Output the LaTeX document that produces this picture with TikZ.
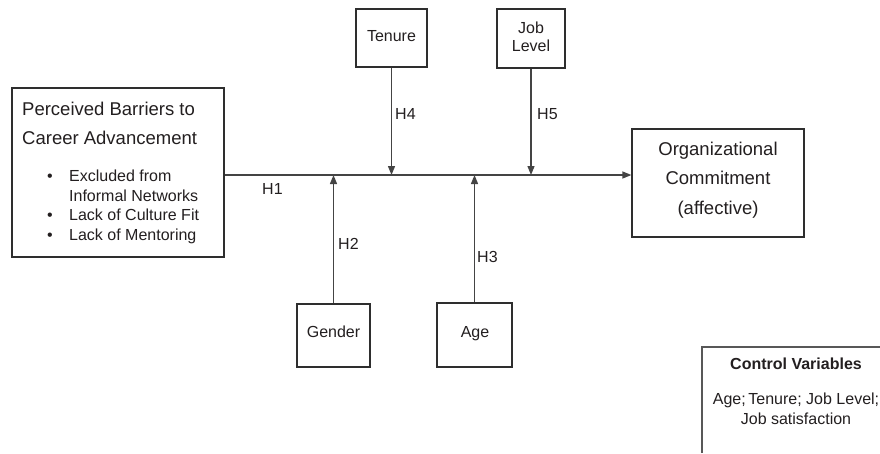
\documentclass[tikz,border=0pt]{standalone}
\usepackage{fontspec}
\setmainfont{Liberation Sans}
\usetikzlibrary{arrows.meta}
\definecolor{ink}{HTML}{231F20}
\definecolor{edge}{HTML}{2E2E2E}
\definecolor{wire}{HTML}{444444}
\begin{document}
\begin{tikzpicture}[x=1pt,y=-1pt,
  box/.style={draw=edge,line width=1.2pt,inner sep=0pt,fill=none},
  txt/.style={inner sep=0pt,text=ink,font=\fontsize{16}{19}\selectfont},
  big/.style={inner sep=0pt,text=ink,font=\fontsize{18.5}{22}\selectfont},
  wirearrow/.style={draw=wire,line width=1.2pt,-{Triangle[length=9pt,width=7pt]}}]
\useasboundingbox (0,0) rectangle (880,453);
\fill[white] (0,0) rectangle (880,453);
% boxes
\node[box,minimum width=212pt,minimum height=169pt] (P) at (118,172.5) {};
\node[box,minimum width=71pt,minimum height=58pt] (T) at (391.5,38) {};
\node[box,minimum width=68pt,minimum height=59pt] (J) at (531,38.5) {};
\node[box,minimum width=73pt,minimum height=63pt] (G) at (333.5,335.5) {};
\node[box,minimum width=75pt,minimum height=64pt] (A) at (474.5,335) {};
\node[box,minimum width=172pt,minimum height=108pt] (O) at (718,183) {};
\coordinate (m) at (0,175);
% texts
\node[big,anchor=base west] (p1) at (22,115.6) {Perceived Barriers to};
\node[big,anchor=base west] (p2) at (22,144.6) {Career Advancement};
\foreach \y/\t [count=\i] in {181/Excluded from,220.5/Lack of Culture Fit,240/Lack of Mentoring}{
  \node[txt,anchor=base west] (b\i) at (69,\y) {\t};
}
\foreach \y [count=\i] in {181,220.5,240}{
  \node[txt,anchor=base] (d\i) at (50,\y) {\textbullet};
}
\node[txt,anchor=base west] (b4) at (69,201) {Informal Networks};
\node[txt,anchor=base] (tt) at (391.5,41) {Tenure};
\node[txt,anchor=base] (jl1) at (531,33) {Job};
\node[txt,anchor=base] (jl2) at (531,51) {Level};
\node[txt,anchor=base] (gt) at (333.5,337) {Gender};
\node[txt,anchor=base] (at) at (475,337) {Age};
\node[big,anchor=base] (o1) at (718,155.7) {Organizational};
\node[big,anchor=base] (o2) at (718,184.7) {Commitment};
\node[big,anchor=base] (o3) at (718,214.7) {(affective)};
% connectors
\draw[wirearrow] (P.east |- m) -- (O.west |- m);
\draw[wirearrow] (T.south) -- (T.south |- m);
\draw[wirearrow] (J.south) -- (J.south |- m);
\draw[wirearrow] (G.north) -- (G.north |- m);
\draw[wirearrow] (A.north) -- (A.north |- m);
% hypothesis labels
\node[txt,anchor=base west] (h1) at (262,194) {H1};
\node[txt,anchor=base west] (h2) at (338,249) {H2};
\node[txt,anchor=base west] (h3) at (477,262) {H3};
\node[txt,anchor=base west] (h4) at (395,119) {H4};
\node[txt,anchor=base west] (h5) at (537,119) {H5};
% control variables (box cut by the frame)
\draw[draw=edge!80,line width=1.2pt] (702,453) -- (702,347) -- (880,347);
\node[txt,anchor=base,font=\fontsize{16}{19}\selectfont\bfseries] (cv) at (796,369) {Control Variables};
\node[txt,anchor=base] (cv1) at (796,404) {Age;\,Tenure; Job Level;};
\node[txt,anchor=base] (cv2) at (796,424) {Job satisfaction};
\end{tikzpicture}
\end{document}
